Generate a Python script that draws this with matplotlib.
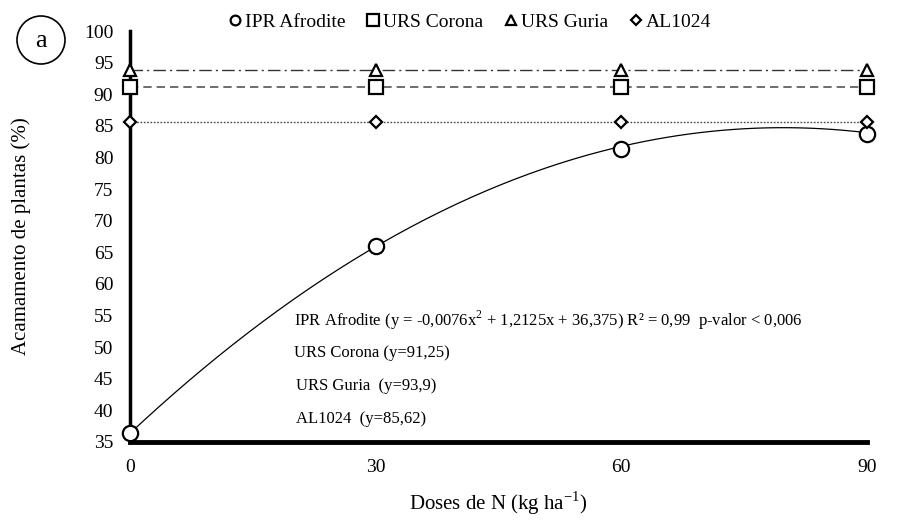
import numpy as np
import matplotlib.pyplot as plt
from matplotlib.lines import Line2D
from matplotlib.patches import Ellipse

plt.rcParams['font.family'] = ['Liberation Serif', 'DejaVu Serif']

# doses de N e medias observadas
doses = [0, 30, 60, 90]
afrodite = [36.4, 66.0, 81.3, 83.8]
corona = [91.25, 91.25, 91.25, 91.25]
guria = [93.9, 93.9, 93.9, 93.9]
al1024 = [85.62, 85.62, 85.62, 85.62]

# coeficientes da regressao (IPR Afrodite)
coef = [-0.0076, 1.2125, 36.375]
media_corona = 91.25
media_guria = 93.9
media_al = 85.62

yticks = [35, 40, 45, 50, 55, 60, 65, 70, 75, 80, 85, 90, 95, 100]

fig = plt.figure(figsize=(9.04, 5.2), dpi=100)
ax = fig.add_axes([0.1438, 0.150, 0.815, 0.790])

xs = np.linspace(0, 90, 200)
ax.plot(xs, np.polyval(coef, xs), color='black', lw=0.9)
ax.axhline(media_guria, color='#333333', lw=1.0, ls=(0, (9, 3, 1.5, 3)))
ax.axhline(media_corona, color='#555555', lw=1.2, ls=(0, (5, 3)))
ax.axhline(media_al, color='#444444', lw=1.0, ls=(0, (1.2, 1.2)))

mk = dict(mfc='white', mec='black', mew=1.6, ls='none', clip_on=False, zorder=5)
ax.plot(doses, afrodite, marker='o', ms=11, **mk)
ax.plot(doses, corona, marker='s', ms=10, **mk)
ax.plot(doses, guria, marker='^', ms=9, **mk)
ax.plot(doses, al1024, marker='D', ms=6.5, **mk)

ax.set_xlim(0, 90)
ax.set_ylim(35, 100)
ax.set_xticks(doses)
ax.set_yticks(yticks)
ax.tick_params(length=0, labelsize=14, pad=12)
ax.tick_params(axis='y', pad=12)
for s in ['top', 'right']:
    ax.spines[s].set_visible(False)
ax.spines['left'].set_linewidth(2.5)
ax.spines['bottom'].set_linewidth(3.5)

ax.set_ylabel('Acamamento de plantas (%)', fontsize=15, labelpad=38)
ax.set_xlabel('Doses de N (kg ha$^{\\mathregular{-1}}$)', fontsize=15, labelpad=10)

# equacoes
tx = 0.223
fs = 12
ax.text(tx, 0.297, 'IPR Afrodite (y = -0,0076x$^{\\mathregular{2}}$ + 1,2125x + 36,375) R² = 0,99  p-valor < 0,006',
        transform=ax.transAxes, fontsize=fs, va='center')
ax.text(tx, 0.217, 'URS Corona (y=91,25)', transform=ax.transAxes, fontsize=fs, va='center')
ax.text(tx + 0.002, 0.136, 'URS Guria  (y=93,9)', transform=ax.transAxes, fontsize=fs, va='center')
ax.text(tx + 0.002, 0.056, 'AL1024  (y=85,62)', transform=ax.transAxes, fontsize=fs, va='center')

# legenda no topo
handles = [Line2D([], [], marker=m, ms=s, mfc='white', mec='black', mew=1.6, ls='none')
           for m, s in [('o', 7), ('s', 8.5), ('^', 7), ('D', 5.5)]]
fig.legend(handles, ['IPR Afrodite', 'URS Corona', 'URS Guria', 'AL1024'],
           loc='center', bbox_to_anchor=(0.518, 0.958), ncol=4, frameon=False,
           fontsize=14, handletextpad=0.0, columnspacing=0.95, handlelength=1.0)

# rotulo do painel
fig.patches.append(Ellipse((41 / 904, 1 - 40 / 520), 48 / 904, 48 / 520,
                           transform=fig.transFigure, fill=False, ec='black', lw=1.2))
fig.text(41 / 904, 1 - 41 / 520, 'a', fontsize=19, ha='center', va='center')

fig.savefig('out.png', dpi=100)
